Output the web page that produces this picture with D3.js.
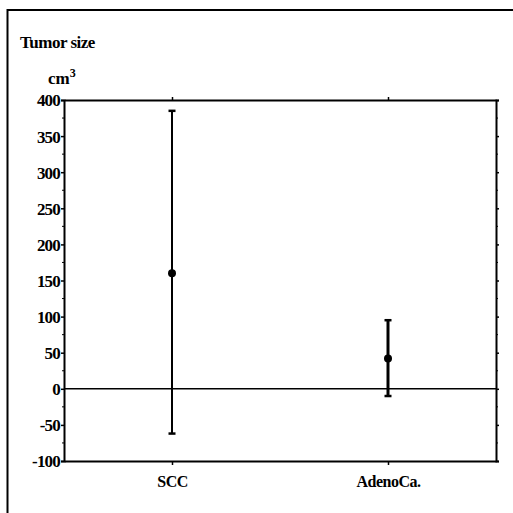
<!DOCTYPE html>
<html><head><meta charset="utf-8">
<script src="https://cdn.jsdelivr.net/npm/d3@7"></script>
<style>body{margin:0;background:#fff}svg{display:block}text{font-family:"Liberation Serif","Times New Roman",serif;font-weight:bold;fill:#000}</style>
</head><body>
<script>
const categories = ["SCC", "AdenoCa."];
const means = [160, 42];
const upper = [385, 95];
const lower = [-62, -10];
const yTicks = [-100, -50, 0, 50, 100, 150, 200, 250, 300, 350, 400];
const yMinor = [-75, -25, 25, 75, 125, 175, 225, 275, 325, 375];

const W = 513, H = 513;
const svg = d3.select("body").append("svg").attr("width", W).attr("height", H);
const L = 64, R = 496, T = 100, B = 461;
const y = d3.scaleLinear().domain([-100, 400]).range([B, T]);
const x = d3.scalePoint().domain(categories).range([L, R]).padding(0.5);
const fmt = d => String(d);

// outer frame (only left/top visible)
svg.append("path").attr("d", `M7.5,${H}V10H${W}`).attr("fill","none").attr("stroke","#000").attr("stroke-width",2);

svg.append("text").attr("x", 20).attr("y", 48).style("font-size","17px").style("letter-spacing","-0.5px").text("Tumor size");
const cm = svg.append("text").attr("x", 48).attr("y", 84).style("font-size","17px").text("cm");
cm.append("tspan").attr("dy", -7).style("font-size","12px").text("3");

// left axis
const gl = svg.append("g").attr("transform", `translate(${L},0)`)
  .call(d3.axisLeft(y).tickValues(yTicks).tickSize(3).tickPadding(1).tickFormat(fmt));
gl.select(".domain").attr("stroke-width", 2);
gl.selectAll("text").style("font-size","17px").style("font-family",'"Liberation Serif",serif').style("font-weight","bold").style("letter-spacing","-0.8px").attr("dy","0.35em");
gl.selectAll("line").attr("stroke-width",1.5);
svg.append("g").attr("transform", `translate(${L},0)`).selectAll("line").data(yMinor).join("line")
  .attr("x1",-2).attr("x2",0).attr("y1",d=>y(d)).attr("y2",d=>y(d)).attr("stroke","#000");

// right axis
const gr = svg.append("g").attr("transform", `translate(${R},0)`)
  .call(d3.axisRight(y).tickValues(yTicks).tickSize(3).tickFormat(""));
gr.select(".domain").attr("stroke-width", 2);
gr.selectAll("line").attr("stroke-width",1.5);
svg.append("g").attr("transform", `translate(${R},0)`).selectAll("line").data(yMinor).join("line")
  .attr("x1",0).attr("x2",2).attr("y1",d=>y(d)).attr("y2",d=>y(d)).attr("stroke","#000");

// bottom axis
const gb = svg.append("g").attr("transform", `translate(0,${B})`)
  .call(d3.axisBottom(x).tickSize(4).tickPadding(11).tickSizeOuter(0));
gb.select(".domain").attr("stroke-width", 2);
gb.selectAll("line").attr("stroke-width",1.5);
gb.selectAll("text").style("font-size","16px").style("font-family",'"Liberation Serif",serif').style("font-weight","bold").style("letter-spacing","-0.5px");

// top axis
const gt = svg.append("g").attr("transform", `translate(0,${T})`)
  .call(d3.axisTop(x).tickSize(3).tickFormat("").tickSizeOuter(0));
gt.select(".domain").attr("stroke-width", 2);
gt.selectAll("line").attr("stroke-width",1.5);

// zero line
svg.append("line").attr("x1",L).attr("x2",R).attr("y1",y(0)).attr("y2",y(0)).attr("stroke","#000").attr("stroke-width",1.5);

// error bars
const widths = [2, 3];
categories.forEach((c,i)=>{
  const cx = x(c);
  svg.append("line").attr("x1",cx).attr("x2",cx).attr("y1",y(upper[i])).attr("y2",y(lower[i])).attr("stroke","#000").attr("stroke-width",widths[i]);
  [upper[i], lower[i]].forEach(v=>{
    svg.append("line").attr("x1",cx-3.5).attr("x2",cx+3.5).attr("y1",y(v)).attr("y2",y(v)).attr("stroke","#000").attr("stroke-width",2.5);
  });
  svg.append("circle").attr("cx",cx).attr("cy",y(means[i])).attr("r",4).attr("fill","#000");
});
</script>
</body></html>
